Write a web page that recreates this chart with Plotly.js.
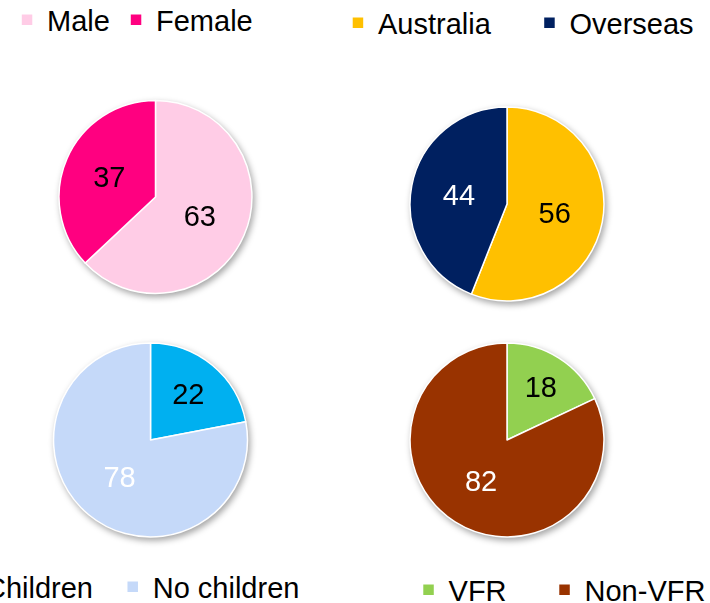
<!DOCTYPE html>
<html>
<head>
<meta charset="utf-8">
<script src="https://cdn.plot.ly/plotly-3.0.1.min.js"></script>
<style>
html,body{margin:0;padding:0;background:#fff;}
#chart{width:710px;height:603px;}
</style>
</head>
<body>
<div id="chart"></div>
<script>
// Data
const genderLabels = ["Male", "Female"];
const genderValues = [63, 37];
const originLabels = ["Australia", "Overseas"];
const originValues = [56, 44];
const childLabels = ["Children", "No children"];
const childValues = [22, 78];
const vfrLabels = ["VFR", "Non-VFR"];
const vfrValues = [18, 82];

const FONT = "Liberation Sans, Arial, sans-serif";

function pie(labels, values, colors, textColors, domain, legendId) {
  return {
    type: "pie",
    labels: labels,
    values: values,
    sort: false,
    direction: "clockwise",
    rotation: 0,
    marker: {colors: colors, line: {color: "#ffffff", width: 1.5}},
    textinfo: "value",
    textposition: "inside",
    insidetextorientation: "horizontal",
    textfont: {family: FONT, size: 29, color: textColors},
    hoverinfo: "label+value",
    domain: domain,
    legend: legendId,
    showlegend: true
  };
}

const data = [
  pie(genderLabels, genderValues, ["#FFCCE6", "#FF0080"], ["#000000", "#000000"],
      {x: [0.0831, 0.3549], y: [0.5133, 0.8333]}, "legend"),
  pie(originLabels, originValues, ["#FFC000", "#002060"], ["#000000", "#ffffff"],
      {x: [0.5775, 0.8507], y: [0.5008, 0.8226]}, "legend2"),
  pie(childLabels, childValues, ["#00B0F0", "#C5D9F9"], ["#000000", "#ffffff"],
      {x: [0.0754, 0.3486], y: [0.1095, 0.4312]}, "legend3"),
  pie(vfrLabels, vfrValues, ["#92D050", "#993300"], ["#000000", "#ffffff"],
      {x: [0.5775, 0.8507], y: [0.1095, 0.4312]}, "legend4")
];

function leg(x, y, ew) {
  return {
    orientation: "h", x: x, y: y, xanchor: "left", yanchor: "middle",
    font: {family: FONT, size: 29, color: "#000"},
    bgcolor: "rgba(0,0,0,0)", borderwidth: 0,
    entrywidth: ew, entrywidthmode: "pixels",
    traceorder: "normal"
  };
}

const layout = {
  width: 710, height: 603,
  margin: {l: 0, r: 0, t: 0, b: 0, autoexpand: false},
  paper_bgcolor: "#ffffff",
  plot_bgcolor: "#ffffff",
  font: {family: FONT},
  legend: leg(0.0099, 1 - 20/603, 64),
  legend2: leg(0.476, 1 - 23/603, 146.5),
  legend3: leg(-0.0775, 1 - 587/603, 122.75),
  legend4: leg(0.5754, 1 - 590/603, 91)
};

function unclip() {
  document.querySelectorAll(".infolayer [clip-path]").forEach(function(s){
    s.removeAttribute("clip-path");
  });
}

Plotly.newPlot("chart", data, layout, {displayModeBar: false, staticPlot: true}).then(function(){
  unclip();
  document.querySelectorAll(".pielayer .trace").forEach(function(t){
    t.style.filter = "drop-shadow(2px 3px 3px rgba(0,0,0,0.35))";
  });
});
</script>
</body>
</html>
